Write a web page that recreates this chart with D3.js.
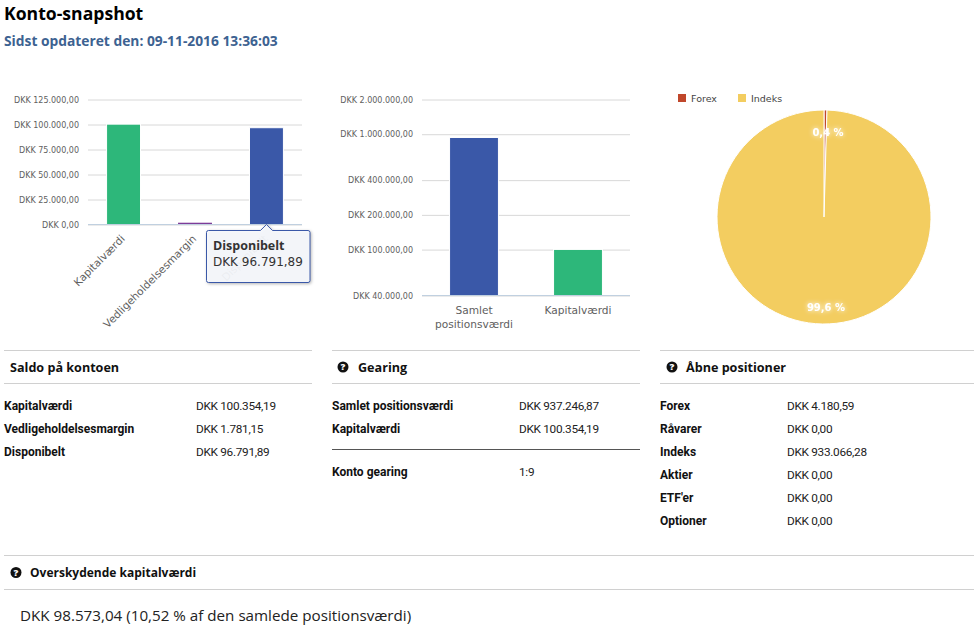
<!DOCTYPE html>
<html>
<head>
<meta charset="utf-8">
<script src="https://d3js.org/d3.v7.min.js"></script>
<style>
  html, body { margin: 0; padding: 0; background: #fff; }
  svg { display: block; font-family: "Open Sans", "Noto Sans", sans-serif; }
  .axis text { font-family: "DejaVu Sans", sans-serif; font-size: 8px; fill: #606060; }
  .cat { font-family: "DejaVu Sans", sans-serif; font-size: 10.6px; fill: #606060; }
  .rowKey { font-family: Roboto, sans-serif; font-size: 12px; font-weight: 700; fill: #111; }
  .rowVal { font-family: Roboto, sans-serif; font-size: 11.8px; letter-spacing: -0.3px; fill: #222; }
  .secTitle { font-size: 12.6px; font-weight: 700; fill: #111; }
</style>
</head>
<body>
<div id="chart"></div>
<script>
// ---- data ----
const marginCats = ["Kapitalværdi", "Vedligeholdelsesmargin", "Disponibelt"];
const marginVals = [100354.19, 1781.15, 96791.89];
const marginTicks = [0, 25000, 50000, 75000, 100000, 125000];

const gearCats = ["Samlet positionsværdi", "Kapitalværdi"];
const gearVals = [937246.87, 100354.19];
const gearTicks = [40000, 100000, 200000, 400000, 1000000, 2000000];

const pieCats = ["Forex", "Indeks"];
const pieVals = [4180.59, 933066.28];
const pieLabels = ["0,4 %", "99,6 %"];

const saldoKeys = ["Kapitalværdi", "Vedligeholdelsesmargin", "Disponibelt"];
const saldoVals = ["DKK 100.354,19", "DKK 1.781,15", "DKK 96.791,89"];
const gearKeys = ["Samlet positionsværdi", "Kapitalværdi"];
const gearRowVals = ["DKK 937.246,87", "DKK 100.354,19"];
const openKeys = ["Forex", "Råvarer", "Indeks", "Aktier", "ETF'er", "Optioner"];
const openVals = ["DKK 4.180,59", "DKK 0,00", "DKK 933.066,28", "DKK 0,00", "DKK 0,00", "DKK 0,00"];

const green = "#2db77a", blue = "#3a58a8", purple = "#7d3c98", red = "#c0472b", yellow = "#f3cd60";

const width = 974, height = 635;
const svg = d3.select("#chart").append("svg").attr("width", width).attr("height", height);

const da = d3.formatLocale({ decimal: ",", thousands: ".", grouping: [3], currency: ["DKK ", ""] });
const dkk = da.format("$,.2f");

// header
svg.append("text").attr("x", 4).attr("y", 20).attr("font-size", 17.6).attr("font-weight", 700).attr("fill", "#000").text("Konto-snapshot");
svg.append("text").attr("x", 4).attr("y", 46).attr("font-size", 13.8).attr("font-weight", 700).attr("fill", "#3d6291").text("Sidst opdateret den: 09-11-2016 13:36:03");

function drawYAxis(y, ticks, x0, x1) {
  const ax = svg.append("g").attr("class", "axis").attr("transform", `translate(${x0},0)`)
    .call(d3.axisLeft(y).tickValues(ticks).tickSize(-(x1 - x0)).tickPadding(9).tickFormat(dkk));
  ax.select(".domain").remove();
  ax.selectAll("line").attr("stroke", "#d8d8d8");
  return ax;
}

function drawBars(y, x, cats, vals, colors, base) {
  svg.append("g").selectAll("rect")
    .data(cats)
    .join("rect")
    .attr("x", d => x(d))
    .attr("width", x.bandwidth())
    .attr("y", (d, i) => y(vals[i]))
    .attr("height", (d, i) => base - y(vals[i]))
    .attr("fill", d => colors(d))
    .attr("stroke", "#fff")
    .attr("stroke-width", (d, i) => (base - y(vals[i]) < 3 ? 0 : 1));
}

// ---- chart 1, margin ----
const y1 = d3.scaleLinear().domain([0, 125000]).range([224.5, 99.5]);
const x1 = d3.scaleBand().domain(marginCats).range([88, 302]).paddingInner(0.525).paddingOuter(0.26);
const color1 = d3.scaleOrdinal().domain(marginCats).range([green, purple, blue]);
drawYAxis(y1, marginTicks, 88, 302);
drawBars(y1, x1, marginCats, marginVals, color1, y1(0));
svg.append("line").attr("x1", 88).attr("x2", 302).attr("y1", y1(0)).attr("y2", y1(0)).attr("stroke", "#c0d0e0");

marginCats.forEach(c => {
  const cx = x1(c) + x1.bandwidth() / 2;
  svg.append("text").attr("class", "cat")
    .attr("text-anchor", "end")
    .attr("transform", `translate(${cx + 2},${y1(0) + 15}) rotate(-45)`)
    .text(c);
});

// ---- chart 2, gearing (log) ----
const y2 = d3.scaleLog().domain([40000, 2000000]).range([295.5, 99.5]);
const x2 = d3.scaleBand().domain(gearCats).range([422, 630]).paddingInner(0.53).paddingOuter(0.265);
const color2 = d3.scaleOrdinal().domain(gearCats).range([blue, green]);
drawYAxis(y2, gearTicks, 422, 630);
drawBars(y2, x2, gearCats, gearVals, color2, y2(40000));
svg.append("line").attr("x1", 422).attr("x2", 630).attr("y1", y2(40000)).attr("y2", y2(40000)).attr("stroke", "#c0d0e0");

// wrapped labels
gearCats.forEach(c => {
  const t = svg.append("text").attr("class", "cat").attr("text-anchor", "middle");
  c.split(" ").forEach((w, i) => {
    t.append("tspan").attr("x", x2(c) + x2.bandwidth() / 2).attr("y", 314 + i * 14).text(w);
  });
});

// ---- pie ----
const pieG = svg.append("g").attr("transform", "translate(824,217)");
const pie = d3.pie().sort(null)(pieVals);
const arc = d3.arc().innerRadius(0).outerRadius(107);
pieG.selectAll("path")
  .data(pie)
  .join("path")
  .attr("d", arc)
  .attr("fill", (d, i) => [red, yellow][i])
  .attr("stroke", "#fff")
  .attr("stroke-width", 1);

const labelG = svg.append("g").attr("font-family", "DejaVu Sans, sans-serif").attr("font-size", 10).attr("font-weight", 700)
  .attr("fill", "#fff").attr("text-anchor", "middle")
  .style("filter", "drop-shadow(0 0 2.5px #fff)");
labelG.append("text").attr("x", 828).attr("y", 136).text(pieLabels[0]);
labelG.append("text").attr("x", 826).attr("y", 311).text(pieLabels[1]);

// legend
const legendX = d3.scaleOrdinal().domain(pieCats).range([678, 738]);
pieCats.forEach((c, i) => {
  svg.append("rect").attr("x", legendX(c)).attr("y", 94).attr("width", 8).attr("height", 8).attr("fill", [red, yellow][i]);
  svg.append("text").attr("x", legendX(c) + 13).attr("y", 101.5).attr("font-family", "DejaVu Sans, sans-serif")
    .attr("font-size", 9.5).attr("fill", "#444").text(c);
});

// ---- tooltip ----
const tipX = x1("Disponibelt") + x1.bandwidth() / 2, tipY = y1(0);
const tip = svg.append("g");
tip.append("path")
  .attr("d", `M208.5,230.5 H${tipX - 6} L${tipX},${tipY} L${tipX + 6},230.5 H308 a2,2 0 0 1 2,2 V280.5 a2,2 0 0 1 -2,2 H208.5 a2,2 0 0 1 -2,-2 V232.5 a2,2 0 0 1 2,-2 Z`)
  .attr("fill", "rgba(248,250,254,0.93)")
  .attr("stroke", blue)
  .attr("stroke-width", 1)
  .style("filter", "drop-shadow(1px 1px 1.5px rgba(0,0,0,0.3))");
tip.append("text").attr("x", 213).attr("y", 250).attr("font-size", 12.5).attr("font-weight", 700).attr("fill", "#333").text(marginCats[2]);
tip.append("text").attr("x", 213).attr("y", 266).attr("font-family", "DejaVu Sans, sans-serif").attr("font-size", 12).attr("fill", "#333").text(dkk(marginVals[2]));

// ---- sections ----
function helpIcon(cx, cy) {
  svg.append("circle").attr("cx", cx).attr("cy", cy).attr("r", 5.5).attr("fill", "#111");
  svg.append("text").attr("x", cx).attr("y", cy + 3.4).attr("text-anchor", "middle").attr("font-size", 9.5).attr("font-weight", 800).attr("fill", "#fff").text("?");
}

function section(x0, x1, yTop, yBot, title, titleX, iconX, size) {
  [yTop, yBot].forEach(yy => {
    svg.append("line").attr("x1", x0).attr("x2", x1).attr("y1", yy).attr("y2", yy).attr("stroke", "#d0d0d0");
  });
  const t = svg.append("text").attr("class", "secTitle").attr("x", titleX).attr("y", (yTop + yBot) / 2 + 4.5).text(title);
  if (size) t.style("font-size", size + "px");
  if (iconX) helpIcon(iconX, (yTop + yBot) / 2);
}

function rows(keys, vals, xKey, xVal, yStart) {
  keys.forEach((k, i) => {
    svg.append("text").attr("class", "rowKey").attr("x", xKey).attr("y", yStart + i * 23).text(k);
    svg.append("text").attr("class", "rowVal").attr("x", xVal).attr("y", yStart + i * 23).text(vals[i]);
  });
}

section(4, 312, 350.5, 383.5, "Saldo på kontoen", 10);
rows(saldoKeys, saldoVals, 4, 196, 410);

section(332, 640, 350.5, 383.5, "Gearing", 358, 343);
rows(gearKeys, gearRowVals, 332, 519, 410);
svg.append("line").attr("x1", 332).attr("x2", 640).attr("y1", 449.5).attr("y2", 449.5).attr("stroke", "#555");
rows(["Konto gearing"], ["1:9"], 332, 519, 476);

section(660, 974, 350.5, 383.5, "Åbne positioner", 686, 672);
rows(openKeys, openVals, 660, 787, 410);

section(4, 974, 555.5, 589.5, "Overskydende kapitalværdi", 30, 16, 12);
svg.append("text").attr("x", 20).attr("y", 621).attr("font-size", 15.2).attr("fill", "#222")
  .text("DKK 98.573,04 (10,52 % af den samlede positionsværdi)");
</script>
</body>
</html>
